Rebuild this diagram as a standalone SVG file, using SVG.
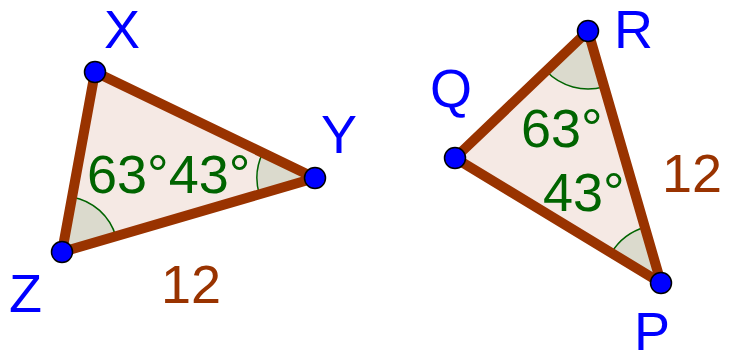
<svg xmlns="http://www.w3.org/2000/svg" width="729" height="353" viewBox="0 0 729 353">
<style>
.tri{fill:#f5e9e4;stroke:none}
.seg{stroke:#993300;stroke-width:10;stroke-linecap:round;fill:none}
.ang{fill:#dbdacd;stroke:#006400;stroke-width:1.5}
.pt{fill:#0000ff;stroke:#000;stroke-width:1.5}
.lbl{font-family:"Liberation Sans",Arial,sans-serif;font-size:54px;fill:#0000ff}
.deg{font-family:"Liberation Sans",Arial,sans-serif;font-size:54px;fill:#006400}
.len{font-family:"Liberation Sans",Arial,sans-serif;font-size:54px;fill:#993300}
</style>
<rect width="729" height="353" fill="#fff"/>
<g id="fills">
<polygon class="tri" points="95,72 315,178 62,252"/>
<polygon class="tri" points="588,31 455,158 661,283"/>
</g>
<g id="angles">
<path class="ang" d="M62,252 L72.1,196.9 A56,56 0 0 1 115.8,236.3 Z"/>
<path class="ang" d="M315,178 L259.3,194.3 A58,58 0 0 1 262.7,152.8 Z"/>
<path class="ang" d="M588,31 L604.1,86.7 A58,58 0 0 1 546.1,71.1 Z"/>
<path class="ang" d="M661,283 L611.4,252.9 A58,58 0 0 1 644.9,227.3 Z"/>
</g>
<g id="connectors">
<line class="seg" x1="95" y1="72" x2="315" y2="178"/>
<line class="seg" x1="315" y1="178" x2="62" y2="252"/>
<line class="seg" x1="62" y1="252" x2="95" y2="72"/>
<line class="seg" x1="588" y1="31" x2="455" y2="158"/>
<line class="seg" x1="455" y1="158" x2="661" y2="283"/>
<line class="seg" x1="661" y1="283" x2="588" y2="31"/>
</g>
<g id="angle-labels">
<text class="deg" x="87" y="193">63°43°</text>
<text class="deg" x="521" y="147">63°</text>
<text class="deg" x="543" y="211">43°</text>
</g>
<g id="length-labels">
<text class="len" x="161" y="303">12</text>
<text class="len" x="662" y="192">12</text>
</g>
<g id="X"><circle class="pt" cx="95" cy="72" r="10.5"/><text class="lbl" x="104" y="48">X</text></g>
<g id="Y"><circle class="pt" cx="315" cy="178" r="10.5"/><text class="lbl" x="321" y="153">Y</text></g>
<g id="Z"><circle class="pt" cx="62" cy="252" r="10.5"/><text class="lbl" x="9" y="312">Z</text></g>
<g id="R"><circle class="pt" cx="588" cy="31" r="10.5"/><text class="lbl" x="614" y="48">R</text></g>
<g id="Q"><circle class="pt" cx="455" cy="158" r="10.5"/><text class="lbl" x="430" y="107">Q</text></g>
<g id="P"><circle class="pt" cx="661" cy="283" r="10.5"/><text class="lbl" x="634" y="350">P</text></g>
</svg>
